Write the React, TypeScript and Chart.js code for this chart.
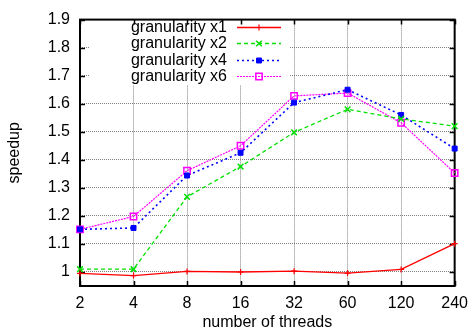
import React, { useEffect, useRef } from "react";
import { Chart, registerables } from "chart.js";

Chart.register(...registerables);

const threads = ["2", "4", "8", "16", "32", "60", "120", "240"];
const yTickValues = [1, 1.1, 1.2, 1.3, 1.4, 1.5, 1.6, 1.7, 1.8, 1.9];
const seriesNames = ["granularity x1", "granularity x2", "granularity x4", "granularity x6"];
const g1 = [0.995, 0.987, 1.002, 1.0, 1.003, 0.996, 1.009, 1.101];
const g2 = [1.01, 1.01, 1.268, 1.376, 1.498, 1.58, 1.546, 1.52];
const g4 = [1.152, 1.157, 1.344, 1.425, 1.604, 1.65, 1.56, 1.44];
const g6 = [1.152, 1.198, 1.361, 1.45, 1.628, 1.638, 1.532, 1.353];

const FONT = "'Liberation Sans', Arial, sans-serif";

function drawMarker(ctx: CanvasRenderingContext2D, ds: any, x: number, y: number) {
  const r = ds.pointRadius;
  ctx.save();
  ctx.strokeStyle = ds.pointBorderColor;
  ctx.fillStyle = ds.pointBackgroundColor;
  ctx.lineWidth = ds.pointBorderWidth;
  ctx.setLineDash([]);
  ctx.beginPath();
  if (ds.pointStyle === "cross") {
    ctx.moveTo(x - r, y);
    ctx.lineTo(x + r, y);
    ctx.moveTo(x, y - r);
    ctx.lineTo(x, y + r);
    ctx.stroke();
  } else if (ds.pointStyle === "crossRot") {
    const d = r * Math.SQRT1_2;
    ctx.moveTo(x - d, y - d);
    ctx.lineTo(x + d, y + d);
    ctx.moveTo(x - d, y + d);
    ctx.lineTo(x + d, y - d);
    ctx.stroke();
  } else {
    const s = r * Math.SQRT1_2;
    ctx.rect(x - s, y - s, 2 * s, 2 * s);
    ctx.fill();
    ctx.stroke();
  }
  ctx.restore();
}

const framePlugin = {
  id: "gnuplotFrame",
  beforeDatasetsDraw(chart: any) {
    const ctx = chart.ctx;
    const { left, right, top, bottom } = chart.chartArea;
    ctx.save();
    ctx.fillStyle = "#ffffff";
    ctx.fillRect(90, 18, 200, 67);
    ctx.strokeStyle = "#000";
    ctx.lineWidth = 1.5;
    const xs = chart.scales.x;
    const ys = chart.scales.y;
    ctx.beginPath();
    for (let i = 0; i < threads.length; i++) {
      const x = Math.round(xs.getPixelForValue(i)) + 0.5;
      ctx.moveTo(x, bottom);
      ctx.lineTo(x, bottom - 5);
      ctx.moveTo(x, top);
      ctx.lineTo(x, top + 5);
    }
    for (const v of yTickValues) {
      const y = Math.round(ys.getPixelForValue(v)) + 0.5;
      ctx.moveTo(left, y);
      ctx.lineTo(left + 5, y);
      ctx.moveTo(right, y);
      ctx.lineTo(right - 5, y);
    }
    ctx.stroke();
    ctx.lineWidth = 2;
    ctx.strokeRect(left, top, right - left, bottom - top);
    ctx.restore();
  },
  afterDatasetsDraw(chart: any) {
    const ctx = chart.ctx;
    ctx.save();
    ctx.font = `16px ${FONT}`;
    ctx.textAlign = "right";
    ctx.textBaseline = "middle";
    chart.data.datasets.forEach((ds: any, i: number) => {
      const y = Math.round(27 + i * 16.3);
      ctx.fillStyle = "#000";
      ctx.fillText(ds.label, 227, y + 1);
      ctx.strokeStyle = ds.borderColor;
      ctx.lineWidth = ds.borderWidth;
      ctx.setLineDash(ds.borderDash || []);
      ctx.beginPath();
      ctx.moveTo(237, y + 0.5);
      ctx.lineTo(281, y + 0.5);
      ctx.stroke();
      ctx.setLineDash([]);
      drawMarker(ctx, ds, 259, y + 0.5);
    });
    ctx.restore();
  },
};

export default function App() {
  const ref = useRef<HTMLCanvasElement>(null);
  useEffect(() => {
    if (!ref.current) return;
    const gridOpts: any = {
      color: "#808080",
      lineWidth: 1,
      drawTicks: false,
      offset: false,
      borderDash: [1, 1],
    };
    const chart = new Chart(ref.current, {
      type: "line",
      data: {
        labels: threads,
        datasets: [
          {
            label: seriesNames[0],
            data: g1,
            borderColor: "#ff0000",
            borderWidth: 1.3,
            pointStyle: "cross",
            pointRadius: 3,
            pointBorderWidth: 1.2,
            pointBackgroundColor: "#ff0000",
            pointBorderColor: "#ff0000",
          },
          {
            label: seriesNames[1],
            data: g2,
            borderColor: "#00e000",
            borderWidth: 1.3,
            borderDash: [4, 3],
            pointStyle: "crossRot",
            pointRadius: 4,
            pointBorderWidth: 1.5,
            pointBackgroundColor: "#00e000",
            pointBorderColor: "#00e000",
          },
          {
            label: seriesNames[2],
            data: g4,
            borderColor: "#0000ff",
            borderWidth: 1.6,
            borderDash: [2, 3],
            pointStyle: "rect",
            pointRadius: 3.5,
            pointBorderWidth: 1,
            pointBackgroundColor: "#0000ff",
            pointBorderColor: "#0000ff",
          },
          {
            label: seriesNames[3],
            data: g6,
            borderColor: "#ff00ff",
            borderWidth: 1.2,
            borderDash: [2, 1],
            pointStyle: "rect",
            pointRadius: 4.5,
            pointBorderWidth: 1.5,
            pointBackgroundColor: "rgba(255,255,255,0)",
            pointBorderColor: "#ff00ff",
          },
        ],
      },
      options: {
        animation: false,
        responsive: false,
        maintainAspectRatio: false,
        layout: { padding: { top: 14, right: 14, left: 0, bottom: 0 } },
        plugins: { legend: { display: false }, tooltip: { enabled: false } },
        elements: { line: { tension: 0 } },
        scales: {
          x: {
            type: "category",
            offset: false,
            grid: gridOpts,
            border: { display: false, dash: [1, 1] },
            ticks: {
              color: "#000",
              font: { family: FONT, size: 16 },
              padding: 8,
              maxRotation: 0,
              autoSkip: false,
            },
            title: {
              display: true,
              text: "number of threads",
              color: "#000",
              font: { family: FONT, size: 16 },
              padding: { top: 0, bottom: 2 },
            },
            afterFit(scale: any) {
              scale.height = 48;
            },
          },
          y: {
            type: "linear",
            min: 0.95,
            max: 1.9,
            grid: gridOpts,
            border: { display: false, dash: [1, 1] },
            afterBuildTicks(scale: any) {
              scale.ticks = yTickValues.map((v) => ({ value: v }));
            },
            ticks: {
              color: "#000",
              font: { family: FONT, size: 16 },
              padding: 10,
              callback: (v: any) => String(Number(Number(v).toFixed(1))),
            },
            title: {
              display: true,
              text: "speedup",
              color: "#000",
              font: { family: FONT, size: 16 },
              padding: { top: 5, bottom: 0 },
            },
            afterFit(scale: any) {
              scale.width = 80;
            },
          },
        },
      },
      plugins: [framePlugin],
    });
    return () => chart.destroy();
  }, []);
  return (
    <div style={{ position: "fixed", left: 0, top: 0, width: 476, height: 334, background: "#fff" }}>
      <canvas ref={ref} width={476} height={334} style={{ width: 476, height: 334 }} />
    </div>
  );
}
